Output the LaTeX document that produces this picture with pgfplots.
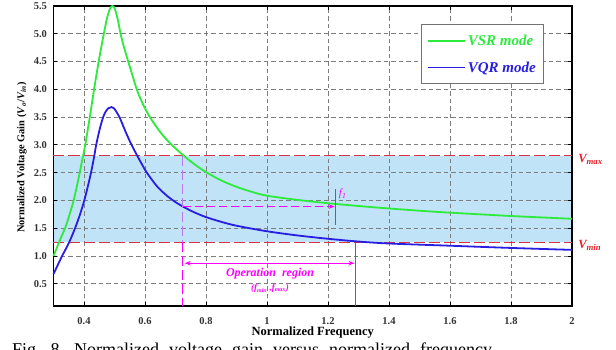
\documentclass[border=0pt]{standalone}
\usepackage{pgfplots}
\pgfplotsset{compat=1.18}
\usepackage{fontspec}
\setmainfont{Liberation Serif}
\usetikzlibrary{arrows.meta}
\definecolor{cgreen}{RGB}{45,235,60}
\definecolor{cblue}{RGB}{40,30,225}
\definecolor{cmag}{RGB}{255,0,255}
\definecolor{cviolet}{RGB}{190,120,235}
\definecolor{cred}{RGB}{215,50,70}
\definecolor{cvred}{RGB}{235,30,40}
\definecolor{cfill}{RGB}{192,227,247}
\definecolor{cgrid}{RGB}{125,125,125}
\begin{document}
\begin{tikzpicture}
\begin{axis}[
  set layers,
  at={(0,0)}, anchor=south west,
  scale only axis, width=518.5pt, height=300pt,
  xmin=0.3, xmax=2, ymin=0.1, ymax=5.5,
  xtick={0.4,0.6,0.8,1,1.2,1.4,1.6,1.8,2},
  xticklabels={0.4,0.6,0.8,1,1.2,1.4,1.6,1.8,2},
  ytick={0.5,1,1.5,2,2.5,3,3.5,4,4.5,5,5.5},
  yticklabels={0.5,1.0,1.5,2.0,2.5,3.0,3.5,4.0,4.5,5.0,5.5},
  grid=major,
  major grid style={cgrid, line width=0.8pt, dash pattern=on 4.5pt off 3pt},
  tick align=inside, major tick length=4pt,
  tick style={black, line width=0.8pt},
  axis line style={black, line width=1.3pt},
  ticklabel style={font=\fontsize{10.5}{12}\selectfont\bfseries, text=black!80},
  xticklabel style={yshift=-8pt},
  yticklabel style={xshift=-3pt},
  /pgf/number format/assume math mode=true,
  xlabel={Normalized Frequency},
  ylabel={Normalized Voltage Gain (\textit{V}\textsubscript{\textit{o}}/\textit{V}\textsubscript{\textit{in}})},
  xlabel style={font=\fontsize{12.5}{14}\selectfont\bfseries, at={(axis description cs:0.5,-0.09)}, anchor=center},
  ylabel style={font=\fontsize{10.4}{12}\selectfont\bfseries, at={(axis description cs:-0.061,0.495)}, anchor=center},
  clip=false,
  legend style={at={(axis description cs:0.708,0.939)}, anchor=north west,
    draw=black!55, line width=0.8pt, fill=white,
    font=\fontsize{15}{18}\selectfont\bfseries\itshape,
    inner xsep=6pt, inner ysep=8pt, row sep=11pt},
  legend cell align=left,
  legend image code/.code={\draw[#1] (0pt,0pt) -- (37pt,0pt);},
]
% shaded operating band
\addplot[draw=none, fill=cfill, on layer=axis background, forget plot]
  coordinates {(0.3,1.25) (2,1.25) (2,2.8) (0.3,2.8)} -- cycle;
% limit lines
\addplot[cred, line width=1pt, dash pattern=on 11pt off 4pt, forget plot]
  coordinates {(0.3,2.8) (2,2.8)};
\addplot[cred, line width=1pt, dash pattern=on 11pt off 4pt, forget plot]
  coordinates {(0.3,1.25) (2,1.25)};
% curves
\addplot[cgreen, line width=1.8pt, smooth] coordinates {
(0.300,1.00) (0.320,1.27) (0.340,1.53) (0.355,1.79) (0.366,2.00) (0.376,2.24) (0.386,2.50)
(0.395,2.75) (0.404,3.00) (0.419,3.50) (0.433,4.00) (0.448,4.50) (0.457,4.77) (0.465,5.00)
(0.475,5.27) (0.485,5.45) (0.493,5.50) (0.501,5.45) (0.511,5.25) (0.520,5.00)
(0.530,4.78) (0.545,4.50) (0.560,4.23) (0.573,4.00) (0.590,3.77) (0.616,3.50)
(0.650,3.23) (0.682,3.03) (0.726,2.81) (0.760,2.66) (0.80,2.51) (0.85,2.36) (0.90,2.245)
(0.95,2.155) (1.00,2.085) (1.10,2.01) (1.20,1.95) (1.30,1.90) (1.40,1.855) (1.50,1.815)
(1.60,1.78) (1.80,1.72) (2.00,1.67)};
\addlegendentry{\textcolor{cgreen}{VSR mode}}
\addplot[cblue, line width=1.8pt, smooth] coordinates {
(0.300,0.675) (0.315,0.85) (0.330,1.02) (0.350,1.23) (0.370,1.49) (0.387,1.75)
(0.401,2.00) (0.412,2.24) (0.423,2.50) (0.432,2.75) (0.440,3.00) (0.450,3.25)
(0.461,3.47) (0.470,3.59) (0.480,3.66) (0.490,3.68) (0.498,3.66) (0.508,3.58)
(0.518,3.48) (0.530,3.32) (0.540,3.19) (0.556,3.00) (0.575,2.80) (0.590,2.65)
(0.606,2.50) (0.640,2.25) (0.675,2.07) (0.700,1.97) (0.726,1.885) (0.76,1.79) (0.80,1.70)
(0.85,1.615) (0.90,1.545) (1.00,1.445) (1.10,1.37) (1.20,1.31) (1.30,1.26)
(1.40,1.225) (1.60,1.185) (1.80,1.145) (2.00,1.11)};
\addlegendentry{\textcolor{cblue}{VQR mode}}
% annotations
\draw[cviolet, line width=1pt, dash pattern=on 10pt off 4pt] (axis cs:0.724,2.8) -- (axis cs:0.724,1.25);
\draw[cmag, line width=1pt, dash pattern=on 10pt off 4pt] (axis cs:0.724,1.25) -- (axis cs:0.724,0.1);
\draw[cmag, line width=1pt, dash pattern=on 8pt off 4pt, -{Stealth[length=6pt]}] (axis cs:0.724,1.89) -- (axis cs:1.222,1.89);
\draw[cmag, line width=1pt] (axis cs:1.223,2.2) -- (axis cs:1.223,1.56);
\node[cmag, anchor=west, font=\fontsize{11}{13}\selectfont\itshape, inner sep=1pt] at (axis cs:1.232,2.12) {f\textsubscript{1}};
\draw[cmag, line width=1pt] (axis cs:1.29,1.25) -- (axis cs:1.29,0.1);
\draw[cmag, line width=1pt, {Stealth[length=6pt]}-{Stealth[length=6pt]}] (axis cs:0.73,0.87) -- (axis cs:1.287,0.87);
\node[cmag, font=\fontsize{12}{14}\selectfont\bfseries\itshape] at (axis cs:1.01,0.675) {Operation\ \ region};
\node[cmag, font=\fontsize{9}{11}\selectfont\bfseries\itshape] at (axis cs:1.01,0.41) {(f\textsubscript{min} ,f\textsubscript{max})};
\node[cvred, anchor=west, font=\fontsize{12.5}{14}\selectfont\bfseries\itshape, inner sep=0pt] at (axis cs:2.02,2.74) {V\textsubscript{max}};
\node[cvred, anchor=west, font=\fontsize{12.5}{14}\selectfont\bfseries\itshape, inner sep=0pt] at (axis cs:2.02,1.19) {V\textsubscript{min}};
\end{axis}
\node[anchor=base west, font=\fontsize{18}{21}\selectfont, inner sep=0pt] at (-41.5pt,-50pt) {Fig.\hspace{10pt}8.\hspace{10pt}Normalized\hspace{10pt}voltage\hspace{10pt}gain\hspace{10pt}versus\hspace{10pt}normalized\hspace{10pt}frequency};
\pgfresetboundingbox
\useasboundingbox (-53.5pt,-44pt) rectangle (562.5pt,306pt);
\end{tikzpicture}
\end{document}
